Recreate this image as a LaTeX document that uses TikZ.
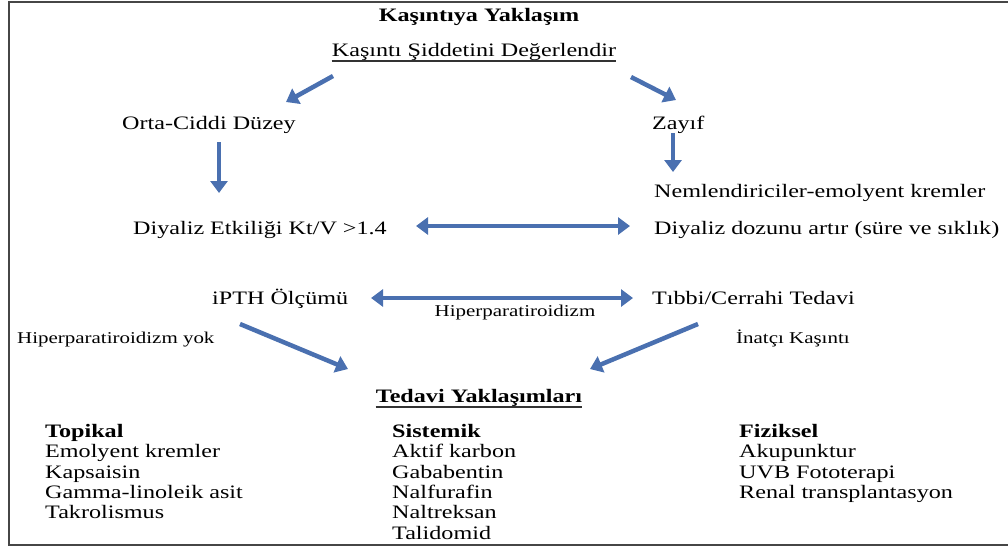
\documentclass[tikz,border=0pt]{standalone}
\usepackage{fontspec}
\setmainfont[FakeStretch=1.27]{Liberation Serif}
\usetikzlibrary{arrows.meta}
\definecolor{arrowblue}{RGB}{74,112,176}
\definecolor{framegray}{RGB}{70,70,70}
\tikzset{
  txt/.style={inner sep=0pt, anchor=base west, font=\fontsize{19}{22}\selectfont},
  ctxt/.style={txt, anchor=base},
  lbl/.style={inner sep=0pt, anchor=base west, font=\fontsize{16.5}{19}\selectfont},
  col/.style={inner sep=0pt, anchor=north west, align=left, font=\fontsize{19}{20.4}\selectfont},
  arr/.style={line width=4.5pt, draw=arrowblue, -{Triangle[length=12pt,width=17pt]}},
  dbl/.style={line width=4.5pt, draw=arrowblue, {Triangle[length=12pt,width=17pt]}-{Triangle[length=12pt,width=17pt]}},
  uline/.style={line width=2pt, draw=black!80}
}
\begin{document}
\begin{tikzpicture}[x=1pt,y=-1pt]
\useasboundingbox (0,0) rectangle (1008,547);
% open frame (right side runs off the page)
\draw[framegray, line width=1.5pt] (1010,2) -- (9,2) -- (9,545) -- (1010,545);

% headings
\node[ctxt, font=\fontsize{19}{22}\selectfont\bfseries] (title) at (479,21) {Kaşıntıya Yaklaşım};
\node[ctxt] (assess) at (474,56) {Kaşıntı Şiddetini Değerlendir};
\draw[uline] ([yshift=-1pt]assess.south west) -- ([yshift=-1pt]assess.south east);

% left branch
\node[txt] (severe) at (122,129) {Orta-Ciddi Düzey};
\node[txt] (ktv) at (133,234) {Diyaliz Etkiliği Kt/V >1.4};
\node[txt] (ipth) at (212,304) {iPTH Ölçümü};
\node[lbl] (nohpt) at (17,343) {Hiperparatiroidizm yok};

% right branch
\node[txt] (mild) at (652,129) {Zayıf};
\node[txt] (emol) at (654,197) {Nemlendiriciler-emolyent kremler};
\node[txt] (dose) at (654,234) {Diyaliz dozunu artır (süre ve sıklık)};
\node[txt] (med) at (652,304) {Tıbbi/Cerrahi Tedavi};
\node[lbl] (refr) at (736,343) {İnatçı Kaşıntı};
\node[lbl, anchor=base] (hpt) at (515,316) {Hiperparatiroidizm};

% treatment approaches
\node[ctxt, font=\fontsize{19}{22}\selectfont\bfseries] (treat) at (479,402) {Tedavi Yaklaşımları};
\draw[uline] ([yshift=-1pt]treat.south west) -- ([yshift=-1pt]treat.south east);

\node[col] (topical) at (45,424) {\textbf{Topikal}\\Emolyent kremler\\Kapsaisin\\Gamma-linoleik asit\\Takrolismus};
\node[col] (systemic) at (392,424) {\textbf{Sistemik}\\Aktif karbon\\Gababentin\\Nalfurafin\\Naltreksan\\Talidomid};
\node[col] (physical) at (739,424) {\textbf{Fiziksel}\\Akupunktur\\UVB Fototerapi\\Renal transplantasyon};

% arrow end points
\coordinate (a1s) at (333,76);  \coordinate (a1e) at (286,102);
\coordinate (a2s) at (631,77);  \coordinate (a2e) at (676,100);
\coordinate (a3s) at (219,142); \coordinate (a3e) at (219,193);
\coordinate (a4s) at (673,133); \coordinate (a4e) at (673,172);
\coordinate (d1s) at (416,226); \coordinate (d1e) at (630,226);
\coordinate (d2s) at (371,298); \coordinate (d2e) at (633,298);
\coordinate (a5s) at (240,324); \coordinate (a5e) at (348,369);
\coordinate (a6s) at (698,324); \coordinate (a6e) at (590,369);

\draw[arr] (a1s) -- (a1e);
\draw[arr] (a2s) -- (a2e);
\draw[arr] (a3s) -- (a3e);
\draw[arr] (a4s) -- (a4e);
\draw[dbl] (d1s) -- (d1e);
\draw[dbl] (d2s) -- (d2e);
\draw[arr] (a5s) -- (a5e);
\draw[arr] (a6s) -- (a6e);
\end{tikzpicture}
\end{document}
